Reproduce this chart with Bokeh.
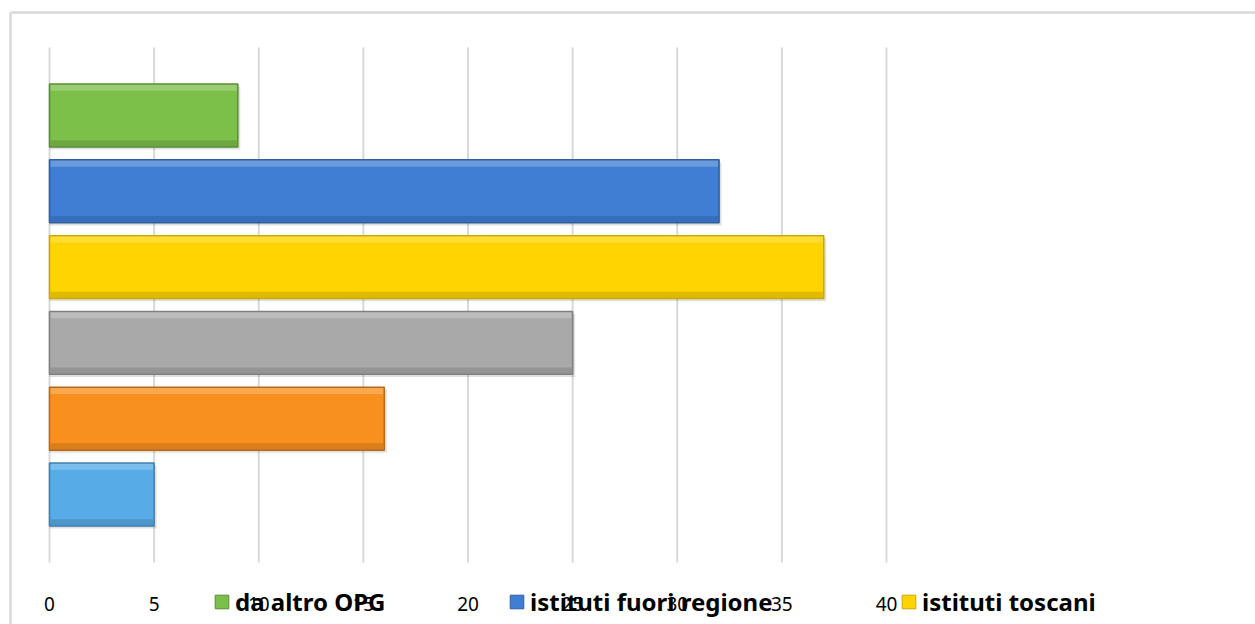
from bokeh.plotting import figure
from bokeh.models import ColumnDataSource, Legend, LegendItem
from bokeh.embed import file_html
from bokeh.resources import INLINE

# ---- data (top bar first) ----
series = ["da altro OPG", "istituti fuori regione", "istituti toscani",
          "serie 4", "serie 5", "serie 6"]
values = [9, 32, 37, 25, 16, 5]
colors = ["#7cc04a", "#3f7ed3", "#ffd400", "#a9a9a9", "#f7901e", "#57abe6"]
edges = ["#5a8c34", "#2f5f9e", "#c9a800", "#7f7f7f", "#b8681a", "#3f7fb0"]
legend_series = ["da altro OPG", "istituti fuori regione", "istituti toscani"]
x_ticks = [0, 5, 10, 15, 20, 25, 30, 35, 40]

W, H = 1255, 624
# pixel layout of the plot area
PL, PR, PT, PB = 49, 886, 47, 562       # plot area (gridlines extent)
XMAX = 40
n = len(values)
SX = (PR - PL) / XMAX                    # px per x unit
SY = (PB - PT) / (n + 0.794)             # px per category
Y_TOP = n + 0.897                        # value at plot-area top


def px2x(px):
    return (px - PL) / SX


def px2y(py):
    return Y_TOP - (py - PT) / SY


pos = [n - i for i in range(n)]
src = ColumnDataSource(dict(y=pos, v=values, c=colors, e=edges, name=series))

p = figure(width=W, height=H, output_backend="svg", toolbar_location=None,
           x_range=(px2x(0), px2x(W)), y_range=(px2y(H), px2y(0)),
           min_border=0)
p.outline_line_color = None
p.background_fill_color = "white"
p.border_fill_color = "white"
p.xaxis.visible = False
p.yaxis.visible = False
p.grid.visible = False

# outer chart border (left and top visible, rest beyond the window)
p.segment(x0=[px2x(10), px2x(10)], y0=[px2y(12), px2y(12)],
          x1=[px2x(10), px2x(W + 20)], y1=[px2y(H + 20), px2y(12)],
          line_color="#d9d9d9", line_width=2.5)

# vertical gridlines
p.segment(x0=x_ticks, x1=x_ticks, y0=[px2y(PB)] * len(x_ticks),
          y1=[px2y(PT)] * len(x_ticks), line_color="#d9d9d9", line_width=2)

BH = 0.83
# shadow
p.hbar(y=[y - 0.035 for y in pos], left=0, right=[v + 0.12 for v in values],
       height=BH, fill_color="#000000", fill_alpha=0.12, line_color=None)
# bars
p.hbar(y="y", left=0, right="v", height=BH, source=src,
       fill_color="c", line_color="e", line_width=1.5)
# bevel highlight (top) and shade (bottom)
p.hbar(y=[y + BH / 2 - 0.05 for y in pos], left=0.05,
       right=[v - 0.05 for v in values], height=0.08,
       fill_color="white", fill_alpha=0.22, line_color=None)
p.hbar(y=[y - BH / 2 + 0.05 for y in pos], left=0.05,
       right=[v - 0.05 for v in values], height=0.08,
       fill_color="black", fill_alpha=0.12, line_color=None)

# x tick labels
p.text(x=x_ticks, y=[px2y(603)] * len(x_ticks), text=[str(t) for t in x_ticks],
       text_align="center", text_baseline="middle",
       text_font={"value": "Noto Sans"}, text_font_size="19px",
       text_color="#000000")

# legends (each item placed individually, overlapping tick labels as in ref)
legend_px = [213, 508, 900]
for name, lx in zip(legend_series, legend_px):
    idx = series.index(name)
    g = p.rect(x=[0], y=[-100], width=0.1, height=0.1,
               fill_color=colors[idx], line_color=edges[idx])
    lg = Legend(items=[LegendItem(label=name, renderers=[g])],
                location=(lx, 6), orientation="horizontal",
                padding=0, margin=0, spacing=0,
                glyph_width=17, glyph_height=17, label_standoff=5,
                label_text_font="Noto Sans", label_text_font_style="bold",
                label_text_font_size="24px", label_text_color="#000000",
                label_height=28,
                background_fill_alpha=0, border_line_color=None)
    p.add_layout(lg, "center")

open("out.html", "w").write(file_html(p, INLINE))
